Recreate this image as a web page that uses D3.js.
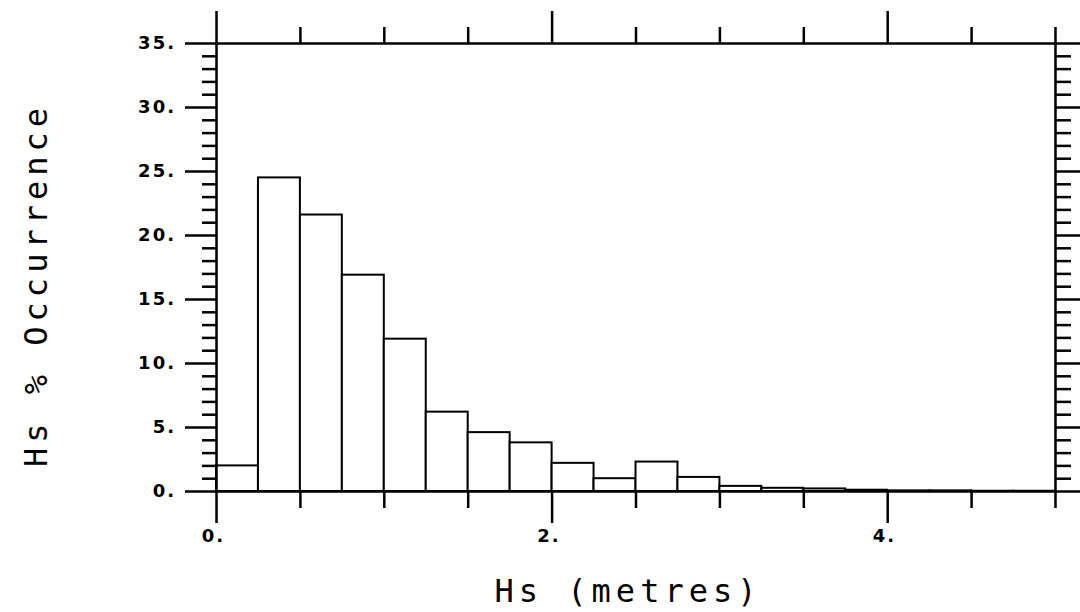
<!DOCTYPE html>
<html>
<head>
<meta charset="utf-8">
<script src="https://cdn.jsdelivr.net/npm/d3@7"></script>
<style>
  html, body { margin: 0; padding: 0; background: #fff; }
  svg { display: block; }
  .tick-label { font-family: "DejaVu Sans", sans-serif; font-weight: bold; font-size: 18px; letter-spacing: 2px; fill: #000; }
  .title { font-family: "DejaVu Sans Mono", monospace; font-size: 32px; letter-spacing: 5px; fill: #000; }
</style>
</head>
<body>
<script>
// Significant wave height histogram, 0.25 m bins
const binLower = [0.00, 0.25, 0.50, 0.75, 1.00, 1.25, 1.50, 1.75, 2.00, 2.25,
                  2.50, 2.75, 3.00, 3.25, 3.50, 3.75, 4.00, 4.25, 4.50, 4.75];
const binWidth = 0.25;
const occurrence = [2.0, 24.5, 21.6, 16.9, 11.9, 6.2, 4.6, 3.8, 2.2, 1.0,
                    2.3, 1.1, 0.4, 0.25, 0.2, 0.1, 0.05, 0.05, 0.02, 0.02];

const xMajorTicks = [0, 2, 4];
const xMinorTicks = [0.5, 1, 1.5, 2.5, 3, 3.5, 4.5, 5];
const xTickLabels = ["0.", "2.", "4."];
const yMajorTicks = [0, 5, 10, 15, 20, 25, 30, 35];
const yMinorTicks = [1,2,3,4,6,7,8,9,11,12,13,14,16,17,18,19,21,22,23,24,26,27,28,29,31,32,33,34];
const yTickLabels = ["0.", "5.", "10.", "15.", "20.", "25.", "30.", "35."];

const W = 1080, H = 612;
const x = d3.scaleLinear().domain([0, 5]).range([216, 1055]);
const y = d3.scaleLinear().domain([0, 35]).range([491, 43]);

const svg = d3.select("body").append("svg").attr("width", W).attr("height", H);

// Bars
svg.append("g").selectAll("rect")
  .data(binLower.map((b, i) => ({ b, v: occurrence[i] })))
  .join("rect")
  .attr("x", d => x(d.b))
  .attr("y", d => y(d.v))
  .attr("width", d => x(d.b + binWidth) - x(d.b))
  .attr("height", d => y(0) - y(d.v))
  .attr("fill", "#fff")
  .attr("stroke", "#000")
  .attr("stroke-width", 2);

function styleAxis(g, width) {
  g.select(".domain").attr("stroke", "#000").attr("stroke-width", width);
  g.selectAll(".tick line").attr("stroke", "#000").attr("stroke-width", 2.5);
  g.selectAll(".tick text").remove();
}

// Bottom axis
svg.append("g").attr("transform", `translate(0,${y(0)})`)
  .call(d3.axisBottom(x).tickValues(xMinorTicks).tickSizeInner(17).tickSizeOuter(0))
  .call(g => styleAxis(g, 2.5));
svg.append("g").attr("transform", `translate(0,${y(0)})`)
  .call(d3.axisBottom(x).tickValues(xMajorTicks).tickSizeInner(32).tickSizeOuter(0))
  .call(g => { styleAxis(g, 2.5); g.select(".domain").remove(); });

// Top axis
svg.append("g").attr("transform", `translate(0,${y(35)})`)
  .call(d3.axisTop(x).tickValues(xMinorTicks).tickSizeInner(16).tickSizeOuter(0))
  .call(g => styleAxis(g, 2.5));
svg.append("g").attr("transform", `translate(0,${y(35)})`)
  .call(d3.axisTop(x).tickValues(xMajorTicks).tickSizeInner(32).tickSizeOuter(0))
  .call(g => { styleAxis(g, 2.5); g.select(".domain").remove(); });

// Left axis
svg.append("g").attr("transform", `translate(${x(0)},0)`)
  .call(d3.axisLeft(y).tickValues(yMinorTicks).tickSizeInner(14).tickSizeOuter(0))
  .call(g => styleAxis(g, 2.5));
svg.append("g").attr("transform", `translate(${x(0)},0)`)
  .call(d3.axisLeft(y).tickValues(yMajorTicks).tickSizeInner(31).tickSizeOuter(0))
  .call(g => { styleAxis(g, 2.5); g.select(".domain").remove(); });

// Right axis
svg.append("g").attr("transform", `translate(${x(5)},0)`)
  .call(d3.axisRight(y).tickValues(yMinorTicks).tickSizeInner(16).tickSizeOuter(0))
  .call(g => styleAxis(g, 2.5));
svg.append("g").attr("transform", `translate(${x(5)},0)`)
  .call(d3.axisRight(y).tickValues(yMajorTicks).tickSizeInner(28).tickSizeOuter(0))
  .call(g => { styleAxis(g, 2.5); g.select(".domain").remove(); });

// Tick labels
svg.append("g").selectAll("text")
  .data(yMajorTicks)
  .join("text")
  .attr("class", "tick-label")
  .attr("x", 176)
  .attr("y", d => y(d))
  .attr("dy", "0.36em")
  .attr("text-anchor", "end")
  .text((d, i) => yTickLabels[i]);

svg.append("g").selectAll("text")
  .data(xMajorTicks)
  .join("text")
  .attr("class", "tick-label")
  .attr("x", d => x(d) + 9)
  .attr("y", 542)
  .attr("text-anchor", "end")
  .text((d, i) => xTickLabels[i]);

// Axis titles
svg.append("text")
  .attr("class", "title")
  .attr("x", 628)
  .attr("y", 602)
  .attr("text-anchor", "middle")
  .text("Hs (metres)");

svg.append("text")
  .attr("class", "title")
  .attr("transform", "translate(47,285) rotate(-90)")
  .attr("text-anchor", "middle")
  .text("Hs % Occurrence");
</script>
</body>
</html>
